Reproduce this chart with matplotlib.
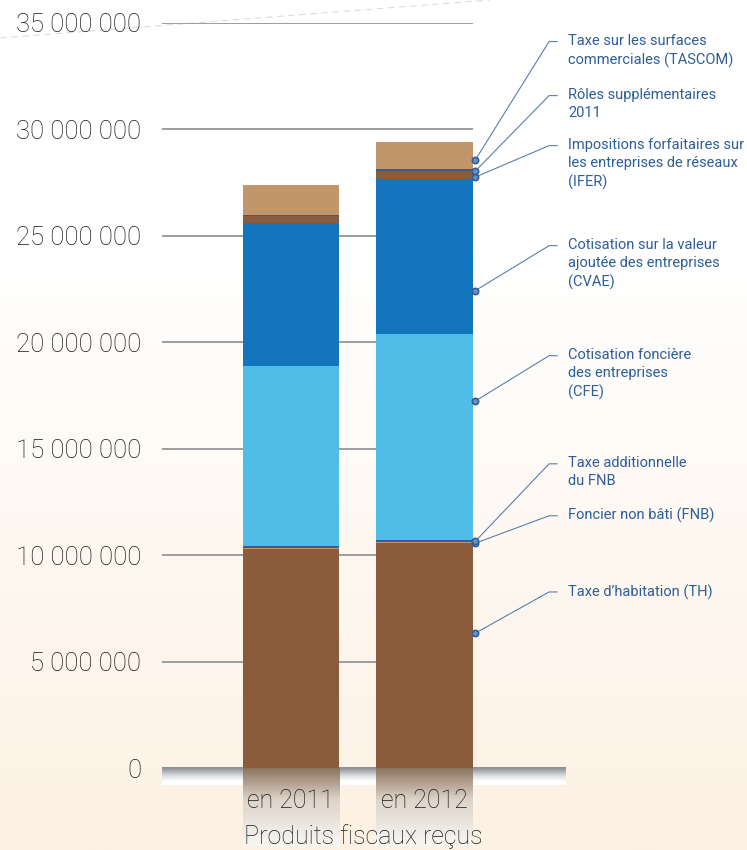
import numpy as np
import matplotlib
matplotlib.use('Agg')
import matplotlib.pyplot as plt
from matplotlib.colors import to_rgb

# --- data (euros) ---
categories = ['en 2011', 'en 2012']
th = [10.28e6, 10.56e6]        # Taxe d'habitation
fnb = [0.05e6, 0.05e6]         # Foncier non bâti
ta_fnb = [0.12e6, 0.08e6]      # Taxe additionnelle du FNB
cfe = [8.42e6, 9.70e6]         # Cotisation foncière des entreprises
cvae = [6.75e6, 7.27e6]        # Cotisation sur la valeur ajoutée
ifer = [0.30e6, 0.37e6]        # IFER
roles = [0.08e6, 0.13e6]       # Rôles supplémentaires 2011
tascom = [1.41e6, 1.26e6]      # TASCOM

series = [th, fnb, ta_fnb, cfe, cvae, ifer, roles, tascom]
colors = ['#8a5c3b', '#c4966a', '#2f5f98', '#50bde6',
          '#1375bc', '#8a5c3b', '#2f5f98', '#c1966a']

labels = [
    'Taxe d\u2019habitation (TH)',
    'Foncier non bâti (FNB)',
    'Taxe additionnelle\ndu FNB',
    'Cotisation foncière\ndes entreprises\n(CFE)',
    'Cotisation sur la valeur\najoutée des entreprises\n(CVAE)',
    'Impositions forfaitaires sur\nles entreprises de réseaux\n(IFER)',
    'Rôles supplémentaires\n2011',
    'Taxe sur les surfaces\ncommerciales (TASCOM)',
]
# where the leader dot sits inside the 2012 segment (fraction of height)
anchor_frac = [0.60, 0.0, 0.5, 0.675, 0.28, 0.27, 0.1, 0.32]
# label first-line height (value units)
label_y = [8.27e6, 11.85e6, 14.29e6, 19.37e6, 24.54e6, 29.24e6, 31.59e6, 34.13e6]

yticks = np.arange(0, 35e6 + 1, 5e6)

text_blue = '#2d5e9a'
font_main = ['Roboto', 'DejaVu Sans']

fig = plt.figure(figsize=(7.47, 8.5), dpi=100)

# background gradient + faint dashed stroke
bg = fig.add_axes([0, 0, 1, 1], zorder=-10)
bg.axis('off')
t = np.clip((np.linspace(0, 1, 850) - 0.3) / 0.7, 0, 1)[:, None]
white = np.array(to_rgb('#ffffff'))
peach = np.array(to_rgb('#fdf1e3'))
img = white * (1 - t) + peach * t
bg.imshow(img[:, None, :], aspect='auto', extent=[0, 1, 0, 1])
bg.plot([0, 490 / 747], [1 - 38 / 850, 1], ls=(0, (6, 4)), color='#d5dee5', lw=0.8)
bg.set_xlim(0, 1)
bg.set_ylim(0, 1)

ax = fig.add_axes([162 / 747, 82 / 850, 403 / 747, 745 / 850])
ax.set_facecolor('none')
x = np.arange(len(categories))
width = 0.72
xlim = (-0.966, 2.052)

for v in yticks[1:]:
    ax.axhline(v, xmin=0, xmax=0.769, color='#9d9d9d', lw=1.4, zorder=1)

bottom = np.zeros(len(categories))
bottoms = []
for vals, c in zip(series, colors):
    ax.bar(x, vals, width, bottom=bottom, color=c, zorder=2, linewidth=0)
    bottoms.append(bottom.copy())
    bottom = bottom + np.array(vals)

# floor band under the zero line
band_cols = ['#8e9297', '#a4a8ad', '#bcbfc3', '#d3d5d8', '#e6e7e9', '#f4f4f5', '#ffffff', '#ffffff']
band = np.array([to_rgb(c) for c in band_cols])[:, None, :]
ax.imshow(band, extent=[xlim[0], xlim[1], -0.8e6, 0.0], aspect='auto',
          clip_on=False, zorder=1.2, interpolation='bilinear')

# reflection under the bars
n = 80
s = np.linspace(0, 1, n)[:, None]
top_c = np.array(to_rgb('#8c7560'))
mid_c = np.array(to_rgb('#ddd3c8'))
low_c = np.array(to_rgb('#f8f7f5'))
refl = np.where(s < 0.4, top_c * (1 - s / 0.4) + mid_c * (s / 0.4),
                mid_c * (1 - (s - 0.4) / 0.6) + low_c * ((s - 0.4) / 0.6))
for xi in x:
    ax.imshow(refl[:, None, :], extent=[xi - width / 2, xi + width / 2, -3.65e6, 0.0],
              aspect='auto', clip_on=False, zorder=1.3, interpolation='bilinear')

# leader lines and labels (anchored on the 2012 bar)
dot_x = 1 + width / 2 + 0.02
elbow_x = 1.933
tick_end = 1.993
text_x = 2.075
for i, lab in enumerate(labels):
    dy = bottoms[i][1] + anchor_frac[i] * series[i][1]
    ly = label_y[i]
    ax.plot([dot_x, elbow_x, tick_end], [dy, ly, ly], color='#5a7fae', lw=0.8,
            clip_on=False, zorder=3)
    ax.plot(dot_x, dy, 'o', ms=4.5, mfc='#6f8fbb', mec='#2f5f98', mew=1.2,
            clip_on=False, zorder=4)
    ax.text(text_x, ly + 0.36e6, lab, ha='left', va='top', fontsize=10.5,
            color=text_blue, family=font_main, linespacing=1.38, clip_on=False)

ax.set_xlim(*xlim)
ax.set_ylim(0, 35e6)
ax.set_yticks(yticks)
ax.set_yticklabels([f'{int(v):,}'.replace(',', ' ') for v in yticks],
                   family=font_main, fontweight='light')
ax.set_xticks(x)
ax.set_xticklabels(categories, family=font_main, fontweight='light')
ax.tick_params(axis='y', length=0, pad=15, labelsize=18.5, labelcolor='#1a1a1a')
ax.tick_params(axis='x', length=0, pad=15, labelsize=18, labelcolor='#1a1a1a')
ax.set_xlabel('Produits fiscaux reçus', fontsize=18, family=font_main,
              fontweight='light', color='#1a1a1a', labelpad=8)
for sp in ax.spines.values():
    sp.set_visible(False)

fig.savefig('out.png', dpi=100)
